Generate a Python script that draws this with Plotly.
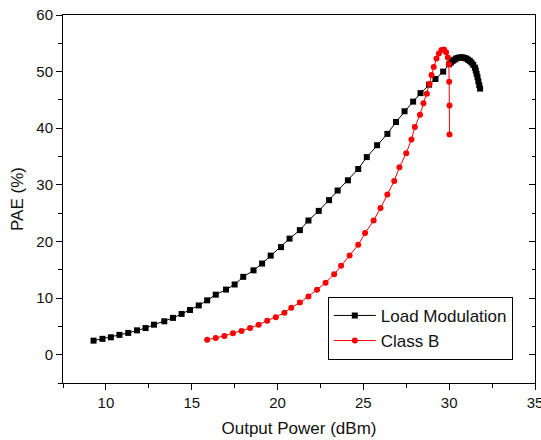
import plotly.graph_objects as go

# Load Modulation (black squares)
lm_x = [9.28, 9.8, 10.29, 10.79, 11.3, 11.81, 12.31, 12.8, 13.4, 13.91, 14.41, 14.9,
        15.41, 15.9, 16.4, 17.0, 17.5, 18.0, 18.6, 19.1, 19.6, 20.2, 20.7, 21.3, 21.8,
        22.4, 23.0, 23.5, 24.1, 24.7, 25.2, 25.8, 26.4, 26.9, 27.4, 27.9, 28.33, 28.83,
        29.2, 29.65, 30.0, 30.1, 30.2, 30.3, 30.4, 30.5, 30.6, 30.7, 30.8, 30.9, 31.0,
        31.1, 31.2, 31.3, 31.4, 31.5, 31.55, 31.6, 31.65, 31.7, 31.75, 31.8]
lm_y = [2.48, 2.8, 3.07, 3.5, 3.85, 4.3, 4.7, 5.3, 5.9, 6.5, 7.2, 7.9,
        8.7, 9.6, 10.6, 11.5, 12.4, 13.75, 14.9, 16.1, 17.5, 19.0, 20.5, 22.0, 23.7,
        25.4, 27.3, 29.0, 30.8, 32.8, 34.9, 37.0, 39.0, 41.1, 43.0, 44.7, 46.2, 47.7,
        48.7, 50.0, 51.3, 51.6, 51.9, 52.1, 52.3, 52.4, 52.5, 52.5, 52.5, 52.4, 52.3,
        52.1, 51.9, 51.6, 51.2, 50.7, 50.2, 49.6, 49.0, 48.3, 47.6, 47.0]

# Class B (red circles)
cb_x = [15.9, 16.4, 16.9, 17.4, 17.9, 18.4, 18.9, 19.4, 19.9, 20.4, 20.8, 21.3, 21.8,
        22.3, 22.8, 23.3, 23.7, 24.2, 24.7, 25.1, 25.6, 26.0, 26.4, 26.8, 27.1, 27.5,
        27.8, 28.0, 28.3, 28.5, 28.7, 28.85, 28.97, 29.1, 29.26, 29.4, 29.55, 29.7,
        29.82, 29.92, 29.98, 30.0, 30.02, 30.02]
cb_y = [2.65, 2.95, 3.3, 3.8, 4.2, 4.7, 5.3, 6.0, 6.6, 7.4, 8.3, 9.2, 10.3,
        11.45, 12.7, 14.2, 15.7, 17.5, 19.4, 21.5, 23.7, 25.9, 28.3, 30.7, 33.1, 35.6,
        38.0, 40.2, 42.4, 44.4, 46.1, 47.8, 49.4, 50.8, 52.3, 53.2, 53.8, 53.9,
        53.4, 52.5, 51.3, 48.2, 44.0, 38.9]

x_ticks = [10, 15, 20, 25, 30, 35]
y_ticks = [0, 10, 20, 30, 40, 50, 60]

font = "Liberation Sans, Arial, sans-serif"

fig = go.Figure()
fig.add_trace(go.Scatter(x=lm_x, y=lm_y, mode="lines+markers", name="Load Modulation",
                         line=dict(color="black", width=1),
                         marker=dict(symbol="square", size=6, color="black")))
fig.add_trace(go.Scatter(x=cb_x, y=cb_y, mode="lines+markers", name="Class B",
                         line=dict(color="red", width=1),
                         marker=dict(symbol="circle", size=6, color="red")))
fig.add_trace(go.Scatter(x=[], y=[], yaxis="y2", showlegend=False, hoverinfo="skip"))

fig.update_layout(
    width=541, height=440,
    margin=dict(l=63, r=6, t=15, b=57, autoexpand=False),
    paper_bgcolor="white", plot_bgcolor="white",
    font=dict(family=font, color="#111", size=15),
    showlegend=True,
    legend=dict(x=0.561, y=0.234, xanchor="left", yanchor="top",
                bordercolor="black", borderwidth=1, bgcolor="white",
                font=dict(size=17, family=font, color="#111"),
                itemwidth=42, tracegroupgap=0),
    xaxis=dict(range=[7.5, 35], tickvals=x_ticks, ticks="outside", ticklen=6,
               tickcolor="black", showline=True, linecolor="black", linewidth=1,
               mirror=True, showgrid=False, zeroline=False, ticklabeloverflow="allow",
               automargin=False,
               minor=dict(dtick=2.5, tick0=7.5, ticks="outside", ticklen=4, tickcolor="black"),
               title=dict(text="Output Power (dBm)", font=dict(size=17), standoff=12)),
    yaxis=dict(range=[-5, 60], tickvals=y_ticks, ticks="outside", ticklen=6,
               tickcolor="black", showline=True, linecolor="black", linewidth=1,
               mirror=True, showgrid=False, zeroline=False, automargin=False,
               minor=dict(dtick=5, tick0=0, ticks="outside", ticklen=4, tickcolor="black"),
               title=dict(text="PAE (%)", font=dict(size=17), standoff=8)),
    yaxis2=dict(range=[-5, 60], overlaying="y", side="right", tickvals=y_ticks,
                ticks="inside", ticklen=6, tickcolor="black", showticklabels=False,
                showline=False, showgrid=False, zeroline=False, automargin=False,
                minor=dict(dtick=5, tick0=0, ticks="inside", ticklen=3, tickcolor="black")),
)

fig.write_html("out.html")
